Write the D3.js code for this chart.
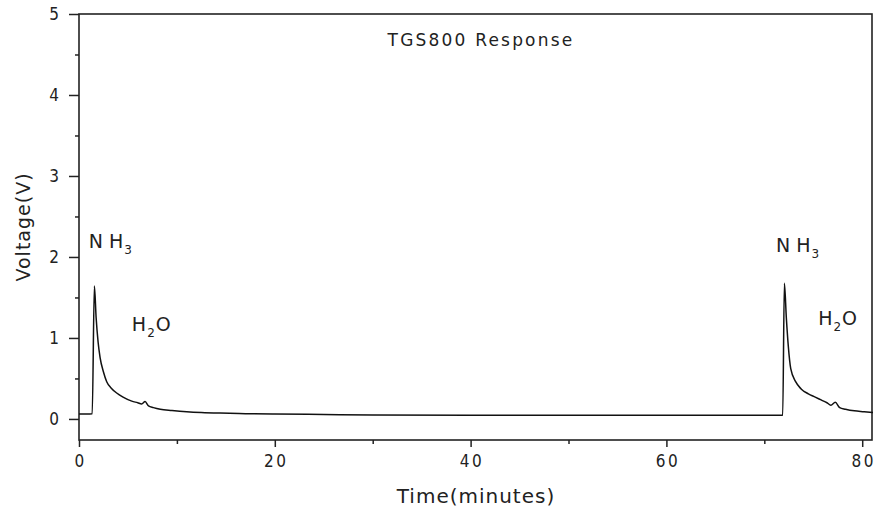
<!DOCTYPE html>
<html>
<head>
<meta charset="utf-8">
<script src="https://cdn.jsdelivr.net/npm/d3@7"></script>
<style>
  html, body { margin: 0; padding: 0; background: #fff; }
  svg { display: block; font-family: "DejaVu Sans", sans-serif; }
</style>
</head>
<body>
<div id="chart"></div>
<script>
// TGS800 sensor trace
var timeMin = [0, 1.35, 1.57, 1.75, 1.95, 2.15, 2.5, 2.83, 3.3, 3.85, 4.5, 5.39, 6.0, 6.4, 6.75,
  7.1, 7.6, 8.3, 9.5, 11, 12.5, 14.4, 17, 20, 25, 30, 40, 50, 60, 70, 71.88,
  72.05, 72.25, 72.45, 72.7, 73.2, 73.76, 74.5, 75.2, 75.8, 76.4, 76.8, 77.25,
  77.7, 78.3, 79.2, 80.2, 81.1];
var voltage = [0.06, 0.065, 1.64, 1.25, 0.95, 0.76, 0.58, 0.46, 0.38, 0.32, 0.27, 0.22, 0.2, 0.185, 0.215,
  0.16, 0.14, 0.12, 0.105, 0.09, 0.08, 0.072, 0.065, 0.06, 0.055, 0.05, 0.047, 0.045, 0.045, 0.045, 0.045,
  1.675, 1.25, 0.9, 0.62, 0.46, 0.37, 0.31, 0.27, 0.235, 0.2, 0.17, 0.205,
  0.14, 0.12, 0.1, 0.09, 0.08];
var xTicks = [0, 20, 40, 60, 80];
var xMinor = [10, 30, 50, 70];
var yTicks = [0, 1, 2, 3, 4, 5];
var yMinor = [0.5, 1.5, 2.5, 3.5, 4.5];
// gas labels: [x minutes, y volts, main, subscript, tail]
var gasLabels = [
  { t: 1.0, v: 2.11, a: "N H", s: "3", b: "" },
  { t: 5.4, v: 1.08, a: "H", s: "2", b: "O" },
  { t: 71.2, v: 2.06, a: "N H", s: "3", b: "" },
  { t: 75.5, v: 1.16, a: "H", s: "2", b: "O" }
];

(function () {
  var W = 875, H = 513;
  var L = 79, R = 872, T = 14, B = 440;
  var svg = d3.select("#chart").append("svg")
    .attr("width", W).attr("height", H);

  var x = d3.scaleLinear().domain([0, 81]).range([L, R]);
  var y = d3.scaleLinear().domain([-0.26, 5]).range([B, T]);

  // minor ticks first so the major axis sits on top
  svg.append("g").attr("transform", "translate(0," + B + ")")
    .call(d3.axisBottom(x).tickValues(xMinor).tickSize(4).tickFormat(""))
    .call(function (g) { g.select(".domain").remove(); });
  svg.append("g").attr("transform", "translate(" + L + ",0)")
    .call(d3.axisLeft(y).tickValues(yMinor).tickSize(4).tickFormat(""))
    .call(function (g) { g.select(".domain").remove(); });

  var xAx = svg.append("g").attr("transform", "translate(0," + B + ")")
    .call(d3.axisBottom(x).tickValues(xTicks).tickSize(7).tickPadding(8)
      .tickFormat(d3.format("d")));
  xAx.select(".domain").remove();
  xAx.selectAll("text").attr("font-size", "17px")
    .attr("font-family", "'DejaVu Sans Condensed', 'DejaVu Sans', sans-serif")
    .attr("letter-spacing", "2.5px").attr("dx", "1px").attr("fill", "#222");

  var yAx = svg.append("g").attr("transform", "translate(" + L + ",0)")
    .call(d3.axisLeft(y).tickValues(yTicks).tickSize(10).tickPadding(10)
      .tickFormat(d3.format("d")));
  yAx.select(".domain").remove();
  yAx.selectAll("text").attr("font-size", "17px")
    .attr("font-family", "'DejaVu Sans Condensed', 'DejaVu Sans', sans-serif")
    .attr("fill", "#222");

  svg.selectAll(".tick line").attr("stroke", "#222").attr("stroke-width", 1.5);

  // frame
  svg.append("rect").attr("x", L).attr("y", T)
    .attr("width", R - L).attr("height", B - T)
    .attr("fill", "none").attr("stroke", "#222").attr("stroke-width", 1.6);

  var pts = timeMin.map(function (t, i) { return [t, voltage[i]]; });
  svg.append("path").datum(pts)
    .attr("fill", "none").attr("stroke", "#111").attr("stroke-width", 1.5)
    .attr("stroke-linejoin", "round")
    .attr("d", d3.line()
      .x(function (d) { return x(d[0]); })
      .y(function (d) { return y(d[1]); })
      .curve(d3.curveMonotoneX));

  svg.append("text").attr("x", 481).attr("y", 46)
    .attr("text-anchor", "middle")
    .attr("font-size", "17px").attr("letter-spacing", "2.2px").attr("fill", "#222")
    .text("TGS800 Response");

  gasLabels.forEach(function (g) {
    var t = svg.append("text").attr("x", x(g.t)).attr("y", y(g.v))
      .attr("font-size", "19px").attr("fill", "#222");
    t.append("tspan").text(g.a);
    t.append("tspan").attr("dy", 6).attr("dx", 1).attr("font-size", "12px").text(g.s);
    if (g.b) t.append("tspan").attr("dy", -6).attr("dx", 1).text(g.b);
  });

  svg.append("text").attr("x", 476).attr("y", 503)
    .attr("text-anchor", "middle").attr("font-size", "20px")
    .attr("letter-spacing", "1px").attr("fill", "#222")
    .text("Time(minutes)");

  svg.append("text")
    .attr("transform", "translate(30,227) rotate(-90)")
    .attr("text-anchor", "middle").attr("font-size", "19px")
    .attr("letter-spacing", "1px").attr("fill", "#222")
    .text("Voltage(V)");
})();
</script>
</body>
</html>
